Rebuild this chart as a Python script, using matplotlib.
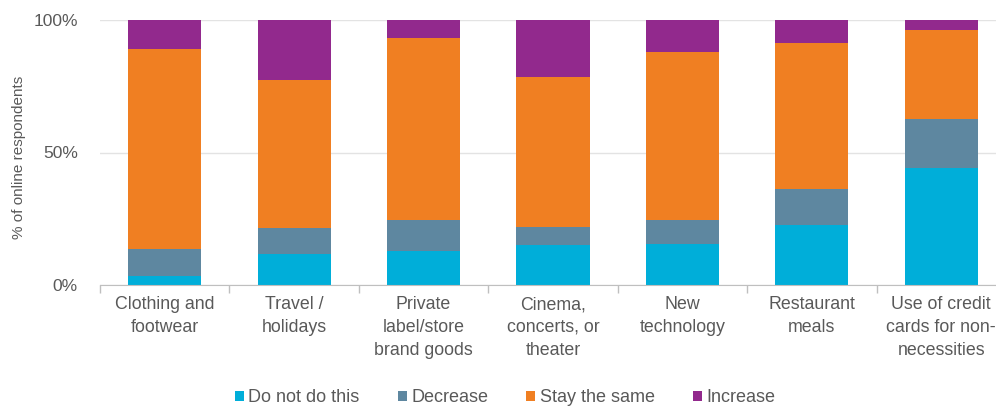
import matplotlib.pyplot as plt
import numpy as np

categories = ["Clothing and\nfootwear", "Travel /\nholidays", "Private\nlabel/store\nbrand goods",
              "Cinema,\nconcerts, or\ntheater", "New\ntechnology", "Restaurant\nmeals",
              "Use of credit\ncards for non-\nnecessities"]
do_not = [3.4, 11.7, 12.9, 15.0, 15.6, 22.8, 44.3]
decrease = [10.3, 9.8, 11.6, 6.9, 8.9, 13.3, 18.5]
stay_same = [75.2, 55.9, 68.6, 56.7, 63.5, 55.3, 33.4]
increase = [11.1, 22.6, 6.9, 21.4, 12.0, 8.6, 3.8]

series = [("Do not do this", do_not, "#00aed9"),
          ("Decrease", decrease, "#5e87a0"),
          ("Stay the same", stay_same, "#f07f22"),
          ("Increase", increase, "#92298d")]

plt.rcParams['font.family'] = ['Liberation Sans', 'DejaVu Sans']
text_color = "#595959"

fig = plt.figure(figsize=(9.96, 4.07), dpi=100)
ax = fig.add_axes([100 / 996, 122 / 407, 906 / 996, 265 / 407])

x = np.arange(len(categories))
bottom = np.zeros(len(categories))
for name, vals, color in series:
    ax.bar(x, vals, width=0.565, bottom=bottom, color=color, label=name, zorder=2)
    bottom += np.array(vals)

ax.set_xlim(-0.5, len(categories) - 0.5)
ax.set_ylim(0, 100)
ax.set_yticks([0, 50, 100])
ax.set_yticklabels(["0%", "50%", "100%"])
ax.yaxis.grid(True, color="#e3e3e3", linewidth=1, zorder=0)
ax.tick_params(axis="y", length=0, pad=16, labelsize=12.5, labelcolor=text_color)

ax.set_xticks(x)
ax.set_xticklabels(categories, linespacing=1.45)
ax.set_xticks(np.arange(len(categories) + 1) - 0.5, minor=True)
ax.tick_params(axis="x", which="major", length=0, pad=8, labelsize=12.8, labelcolor=text_color)
ax.tick_params(axis="x", which="minor", length=6, color="#bfbfbf", width=1)

for side in ["top", "right", "left"]:
    ax.spines[side].set_visible(False)
ax.spines["bottom"].set_color("#bfbfbf")

ax.set_ylabel("% of online respondents", fontsize=11, color=text_color)
ax.yaxis.set_label_coords(-0.082, 0.48)

fig.legend(loc="center", bbox_to_anchor=(505 / 996, 1 - 398 / 407), ncol=4, frameon=False,
           fontsize=13, handlelength=0.5, handleheight=0.5, handletextpad=0.25,
           columnspacing=2.1, labelcolor=text_color)

fig.savefig("out.png", dpi=100)
